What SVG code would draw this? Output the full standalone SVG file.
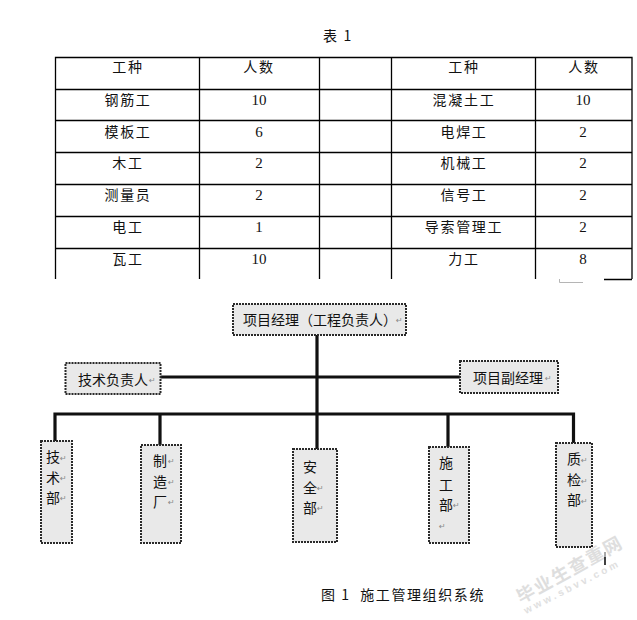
<svg xmlns="http://www.w3.org/2000/svg" width="637" height="620" viewBox="0 0 637 620">
<style>
text{font-family:"Noto Sans CJK SC","Liberation Serif",sans-serif;fill:#111}
.t{font-size:14px;text-anchor:middle;letter-spacing:1.700px}
.n{font-family:"Liberation Serif",serif;font-size:15px;text-anchor:middle}
.g{stroke:#000;stroke-width:1.300;fill:none}
.b{fill:#e9e9e9;stroke:#2a2a2a;stroke-width:2;stroke-dasharray:2 1}
.l{font-size:14px}
.m{font-size:8px;fill:#888;font-family:"DejaVu Sans",sans-serif}
.c{stroke:#111;stroke-width:3.200;fill:none}
.w{font-size:18px;fill:#dedede;font-weight:700;letter-spacing:1.800px}
.w2{font-size:10px;fill:#e0e0e0;font-family:"Liberation Sans",sans-serif;font-weight:700;letter-spacing:3px}
</style>
<rect width="637" height="620" fill="#fff"/>
<text id="title" x="338" y="41" class="t">表 1</text>
<g id="table">
<path class="g" d="M55.500 279V57.500H632V279M199.500 57.500V279M319.500 57.500V279M391.500 57.500V279M535.500 57.500V279M55.500 89.500H632M55.500 120.500H632M55.500 152.500H632M55.500 184.500H632M55.500 216.500H632M55.500 248.500H632M604 279.500H632"/>
<path d="M559.500 279V282.500H583" fill="none" stroke="#b5b5b5" stroke-width="1"/>
<text class="t" x="128" y="72">工种</text><text class="t" x="259" y="72">人数</text><text class="t" x="464" y="72">工种</text><text class="t" x="584" y="72">人数</text>
<text class="t" x="128" y="105">钢筋工</text><text class="n" x="259" y="105">10</text><text class="t" x="464" y="105">混凝土工</text><text class="n" x="583" y="105">10</text>
<text class="t" x="128" y="137">模板工</text><text class="n" x="259" y="137">6</text><text class="t" x="464" y="137">电焊工</text><text class="n" x="583" y="137">2</text>
<text class="t" x="128" y="168">木工</text><text class="n" x="259" y="168">2</text><text class="t" x="464" y="168">机械工</text><text class="n" x="583" y="168">2</text>
<text class="t" x="128" y="200">测量员</text><text class="n" x="259" y="200">2</text><text class="t" x="464" y="200">信号工</text><text class="n" x="583" y="200">2</text>
<text class="t" x="128" y="232">电工</text><text class="n" x="259" y="232">1</text><text class="t" x="464" y="232">导索管理工</text><text class="n" x="583" y="232">2</text>
<text class="t" x="128" y="264">瓦工</text><text class="n" x="259" y="264">10</text><text class="t" x="464" y="264">力工</text><text class="n" x="583" y="264">8</text>
</g>
<g id="connectors">
<path class="c" d="M317 335V449M160 377H460M55 441V414H573.500V443M160 414V445M448 414V447"/>
</g>
<g id="pm"><rect class="b" x="233" y="304" width="173" height="31"/><text class="l" x="243" y="325">项目经理（工程负责人）</text><text class="m" x="396" y="323">↵</text></g>
<g id="tech-lead"><rect class="b" x="65.500" y="363" width="95" height="31"/><text class="l" x="78" y="385">技术负责人</text><text class="m" x="149" y="383">↵</text></g>
<g id="deputy"><rect class="b" x="460" y="361" width="98" height="32"/><text class="l" x="473" y="383">项目副经理</text><text class="m" x="545" y="381">↵</text></g>
<g id="d1"><rect class="b" x="41" y="441" width="31" height="102"/><text class="l" x="46" y="462">技</text><text class="l" x="46" y="483">术</text><text class="l" x="46" y="503">部</text><text class="m" x="60" y="461">↵</text><text class="m" x="60" y="481">↵</text><text class="m" x="60" y="501">↵</text></g>
<g id="d2"><rect class="b" x="141" y="445" width="40" height="98"/><text class="l" x="153" y="466">制</text><text class="l" x="153" y="487">造</text><text class="l" x="153" y="507">厂</text><text class="m" x="168" y="464">↵</text><text class="m" x="168" y="485">↵</text><text class="m" x="168" y="505">↵</text></g>
<g id="d3"><rect class="b" x="293" y="449" width="44" height="93"/><text class="l" x="303" y="472">安</text><text class="l" x="303" y="493">全</text><text class="l" x="303" y="513">部</text><text class="m" x="317" y="491">↵</text><text class="m" x="317" y="511">↵</text></g>
<g id="d4"><rect class="b" x="429" y="447" width="40" height="96"/><text class="l" x="439" y="468">施</text><text class="l" x="439" y="490">工</text><text class="l" x="439" y="510">部</text><text class="m" x="453" y="508">↵</text><text class="m" x="439" y="529">↵</text></g>
<g id="d5"><rect class="b" x="556" y="443" width="36" height="104"/><text class="l" x="567" y="464">质</text><text class="l" x="567" y="485">检</text><text class="l" x="567" y="505">部</text><text class="m" x="581" y="463">↵</text><text class="m" x="581" y="484">↵</text><text class="m" x="581" y="504">↵</text></g>
<text id="caption" x="403" y="600" class="t" xml:space="preserve" style="letter-spacing:1.600px">图 1  施工管理组织系统</text>
<g id="watermark"><text class="w" transform="translate(521 604) rotate(-29)">毕业生查重网</text><text class="w2" transform="translate(526 614) rotate(-27)">www.sbvv.com</text></g>
<path d="M605 552V557" stroke="#555" stroke-width="1"/><path d="M605 557V565" stroke="#111" stroke-width="1.600"/>
</svg>
